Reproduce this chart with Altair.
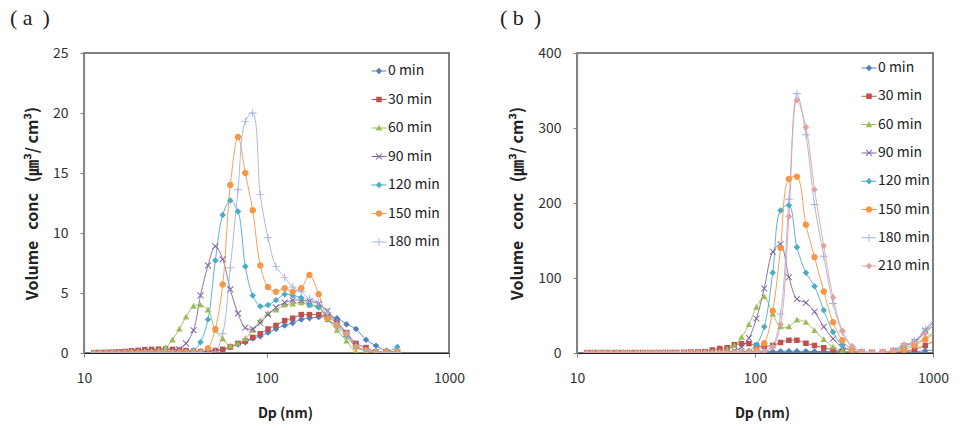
import altair as alt
import pandas as pd

# particle diameter bins (nm)
diam = [11.34, 12.24, 13.21, 14.30, 15.47, 16.78, 18.21, 19.79, 21.54, 23.47,
        25.60, 27.97, 30.55, 33.29, 36.23, 39.81, 43.49, 47.81, 52.42, 57.54,
        63.34, 69.80, 76.53, 84.04, 92.47, 101.9, 112.7, 125.8, 139.2, 155.1,
        172.0, 193.2, 215.9, 243.4, 274.4, 309.4, 351.0, 398.1, 454.5, 520.9,
        598.0, 687.0, 788.0, 905.0, 1040.0]

series_names = ["0 min", "30 min", "60 min", "90 min", "120 min", "150 min", "180 min", "210 min"]
series_colors = ["#4F81BD", "#C0504D", "#9BBB59", "#8064A2", "#4BACC6", "#F79646", "#A3B4DA", "#E3A19F"]

DIAMOND = "M0,-1L1,0L0,1L-1,0Z"
SQUARE = "M-0.85,-0.85L0.85,-0.85L0.85,0.85L-0.85,0.85Z"
TRIANGLE = "M0,-1L1,0.8L-1,0.8Z"
XMARK = ("M-0.813,-1.025L0,-0.212L0.813,-1.025L1.025,-0.813L0.212,0L1.025,0.813L0.813,1.025"
         "L0,0.212L-0.813,1.025L-1.025,0.813L-0.212,0L-1.025,-0.813Z")
PLUS = ("M-1.2,-0.14L-0.14,-0.14L-0.14,-1.2L0.14,-1.2L0.14,-0.14L1.2,-0.14L1.2,0.14"
        "L0.14,0.14L0.14,1.2L-0.14,1.2L-0.14,0.14L-1.2,0.14Z")
CIRCLE = "M1,0A1,1,0,1,1,-1,0A1,1,0,1,1,1,0Z"
BAR = "M-2.3,-0.15L2.3,-0.15L2.3,0.15L-2.3,0.15Z"

series_shapes = [DIAMOND, SQUARE, TRIANGLE, XMARK, DIAMOND, CIRCLE, PLUS, DIAMOND]
legend_shapes = [BAR + s for s in series_shapes]

# ---- panel (a) values (um3/cm3) ----
a_0 = [0.02, 0.02, 0.03, 0.03, 0.04, 0.05, 0.05, 0.06, 0.07, 0.08, 0.08, 0.09, 0.1, 0.1, 0.1, 0.1, 0.12, 0.15,
       0.2, 0.3, 0.5, 0.7, 0.9, 1.2, 1.4, 1.7, 2.0, 2.3, 2.5, 2.8, 2.9, 3.0, 3.0, 2.9, 2.4, 2.0, 1.1, 0.6, 0.2, 0.1]
a_30 = [0.02, 0.03, 0.05, 0.07, 0.1, 0.13, 0.18, 0.22, 0.27, 0.3, 0.32, 0.33, 0.3, 0.25, 0.2, 0.15, 0.12, 0.15,
        0.2, 0.3, 0.5, 0.8, 1.0, 1.3, 1.6, 2.0, 2.3, 2.7, 2.9, 3.2, 3.2, 3.2, 3.0, 2.5, 1.7, 0.8, 0.45, 0.1, 0.05, 0.05]
a_60 = [0.01, 0.01, 0.02, 0.02, 0.03, 0.04, 0.05, 0.07, 0.1, 0.15, 0.25, 0.45, 1.1, 2.0, 3.0, 3.9, 4.0, 3.6,
        1.9, 1.2, 0.6, 0.8, 1.2, 1.9, 2.7, 3.3, 3.6, 4.0, 4.1, 4.2, 4.0, 3.9, 2.8, 1.9, 1.0, 0.05, 0.0, 0.0, 0.0, 0.1]
a_90 = [0.01, 0.01, 0.01, 0.02, 0.02, 0.03, 0.03, 0.04, 0.05, 0.05, 0.06, 0.08, 0.1, 0.3, 0.8, 1.9, 4.8, 7.3,
        8.9, 7.8, 5.3, 3.3, 2.1, 2.0, 2.5, 3.2, 3.8, 4.2, 4.4, 4.4, 4.3, 4.1, 3.5, 2.6, 1.6, 0.6, 0.2, 0.05, 0.05, 0.05]
a_120 = [0.01, 0.01, 0.01, 0.01, 0.02, 0.02, 0.02, 0.03, 0.03, 0.03, 0.04, 0.04, 0.05, 0.05, 0.05, 0.2, 0.9, 2.8,
         7.7, 11.5, 12.7, 11.8, 7.2, 4.8, 3.9, 4.0, 4.4, 4.9, 4.8, 4.6, 4.0, 3.8, 2.8, 2.2, 1.4, 0.5, 0.2, 0.1, 0.1, 0.5]
a_150 = [0.01, 0.01, 0.01, 0.01, 0.01, 0.02, 0.02, 0.02, 0.02, 0.03, 0.03, 0.03, 0.03, 0.04, 0.04, 0.04, 0.05, 0.4,
         2.0, 5.7, 14.0, 18.0, 15.0, 11.9, 7.3, 5.5, 5.1, 5.4, 5.1, 5.4, 6.5, 4.9, 2.9, 2.3, 1.6, 0.5, 0.2, 0.1, 0.1, 0.1]
a_180 = [0.01, 0.01, 0.01, 0.01, 0.01, 0.01, 0.01, 0.02, 0.02, 0.02, 0.02, 0.02, 0.03, 0.03, 0.03, 0.03, 0.04, 0.05,
         0.1, 1.6, 7.1, 13.6, 19.3, 20.0, 13.2, 9.6, 7.2, 6.3, 5.5, 5.1, 4.5, 4.2, 3.4, 2.5, 1.6, 0.6, 0.2, 0.1, 0.05, 0.05]

# ---- panel (b) values (um3/cm3) ----
b_0 = [0.1] * 20 + [0.3, 0.5, 1, 1.5, 2, 2, 2, 2, 2.2, 2.3, 2.3, 2.2, 2, 2, 1.8, 1.5, 1.2, 1, 0.8, 0.8,
                    1, 1.2, 1.8, 3, 4]
b_30 = [0.1, 0.1, 0.1, 0.1, 0.2, 0.2, 0.2, 0.3, 0.3, 0.3, 0.4, 0.4, 0.5, 0.5, 0.6, 0.8, 1.2, 1.5, 1.8, 4,
        6, 7, 11, 12.5, 12.5, 10, 9, 10, 14, 17, 17, 13, 10, 7, 4, 2, 1, 0.5, 0.5, 0.5,
        0.8, 2, 5, 10, 18]
b_60 = [0.1] * 18 + [0.5, 1, 2, 5, 10, 21, 38, 61, 75, 52, 35, 35, 44, 41, 30, 18, 8, 3, 1, 0.5, 0.5, 0.5,
                    2, 6, 12, 20, 30]
b_90 = [0.1] * 20 + [0.5, 1.5, 3, 8, 20, 46, 86, 135, 145, 101, 72, 67, 55, 35, 19, 8, 3, 1, 0.5, 1,
                    3, 9, 15, 30, 45]
b_120 = [0.1] * 22 + [0.5, 1, 3, 11, 35, 107, 190, 197, 141, 107, 89, 57, 28, 10, 3, 1, 0.5, 1,
                     3, 9, 15, 28, 40]
b_150 = [0.1] * 22 + [0.3, 0.5, 1.5, 4, 13, 56, 140, 232, 235, 171, 128, 82, 41, 17, 4, 1, 0.5, 1,
                     2, 4, 10, 18, 28]
b_180 = [0.1] * 24 + [0.5, 1, 3, 10, 52, 205, 346, 291, 198, 129, 66, 28, 8, 2, 0.5, 1,
                     3, 10, 16, 32, 48]
b_210 = [0.1] * 24 + [0.5, 1, 2, 8, 38, 182, 337, 301, 218, 143, 74, 30, 9, 2, 1, 1,
                     4, 11, 14, 26, 40]

a_values = [a_0, a_30, a_60, a_90, a_120, a_150, a_180]
b_values = [b_0, b_30, b_60, b_90, b_120, b_150, b_180, b_210]

FONT = "Noto Sans CJK KR"
NB = "\u00a0"
Y_TITLE = "Volume" + NB * 3 + "conc" + NB * 3 + "(\u339b\u00b3/" + NB + "cm\u00b3)"
MSIZE = 42


def to_long(names, values):
    rows = []
    for name, vals in zip(names, values):
        for d, v in zip(diam, vals):
            rows.append({"Dp": d, "V": v, "series": name})
    return pd.DataFrame(rows)


def panel(names, values, w, h, ymax, ystep, leg_x, leg_y0, leg_step, label, dx, xtitle_x):
    n = len(names)
    df = to_long(names, values)
    cols = series_colors[:n]
    x = alt.X("Dp:Q",
              scale=alt.Scale(type="log", domain=[10, 1000]),
              axis=alt.Axis(values=[10, 100, 1000], format="d", title="Dp (nm)",
                            titleFont=FONT, titleFontSize=14, titleFontWeight="bold",
                            titleColor="#222", titleX=xtitle_x, labelFont=FONT, labelFontSize=14,
                            labelColor="#333", tickSize=4, tickColor="#808080",
                            domainColor="#222", domainWidth=1.2, labelPadding=14,
                            titlePadding=21, grid=False, labelFlush=False))
    y = alt.Y("V:Q",
              scale=alt.Scale(domain=[0, ymax], nice=False),
              axis=alt.Axis(values=list(range(0, ymax + 1, ystep)), title=Y_TITLE,
                            titleFont=FONT, titleFontSize=16, titleFontWeight="bold",
                            titleColor="#222", labelFont=FONT, labelFontSize=14,
                            labelColor="#333", tickSize=4, tickColor="#808080",
                            domainColor="#888", domainWidth=1.2, labelPadding=12,
                            titlePadding=12, grid=False))
    fill_scale = alt.Scale(domain=names, range=cols)

    data_layers = [alt.Chart(df).mark_line(strokeWidth=1, interpolate="catmull-rom", clip=True,
                                           opacity=0.9).encode(
        x=x, y=y, stroke=alt.Stroke("series:N", scale=alt.Scale(domain=names, range=cols),
                                    legend=None))]
    for name, shp in zip(names, series_shapes[:n]):
        data_layers.append(
            alt.Chart(df).transform_filter(alt.datum.series == name)
            .mark_point(shape=shp, filled=True, size=MSIZE, opacity=1, clip=True)
            .encode(x=x, y=y, fill=alt.Fill("series:N", scale=fill_scale, legend=None)))
    data = alt.layer(*data_layers)

    # legend: one row per series, rows laid out by a point scale
    leg_df = pd.DataFrame({"series": names})
    ly = alt.Y("series:N", axis=None,
               scale=alt.Scale(domain=names, range=[leg_y0, leg_y0 + leg_step * (n - 1)],
                               padding=0))
    leg_sym = alt.Chart(leg_df).mark_point(filled=True, size=MSIZE, opacity=1).encode(
        x=alt.value(leg_x), y=ly,
        fill=alt.Fill("series:N", scale=fill_scale, legend=None),
        shape=alt.Shape("series:N", scale=alt.Scale(domain=names, range=legend_shapes[:n]),
                        legend=None))
    leg_txt = alt.Chart(leg_df).mark_text(align="left", baseline="middle", font=FONT,
                                          fontSize=14, color="#222", dx=9).encode(
        x=alt.value(leg_x), y=ly, text="series:N")
    legend = alt.layer(leg_sym, leg_txt)

    return alt.layer(data, legend).resolve_scale(y="independent").properties(
        width=w, height=h,
        title=alt.TitleParams(label, anchor="start", frame="group", dx=dx, offset=16,
                              font="Liberation Serif", fontSize=22, fontWeight="normal",
                              color="#222"))


LA = "(" + NB + "a" + NB + "\u2009)"
LB = "(" + NB + "b" + NB + "\u2009)"
pa = panel(series_names[:7], a_values, 365, 300, 25, 5, 295, 18, 28.5, LA, -74, 201)
pb = panel(series_names, b_values, 356, 300, 400, 100, 292, 15, 28.3, LB, -77, 185)

chart = alt.hconcat(pa, pb, spacing=128, bounds="flush").resolve_scale(
    fill="independent", stroke="independent", shape="independent"
).configure_view(stroke="#555", strokeWidth=1.5).properties(
    padding={"left": 9, "top": 6, "right": 0, "bottom": 0}, background="white")

chart.save("out.html", embed_options={"renderer": "svg", "actions": False})
